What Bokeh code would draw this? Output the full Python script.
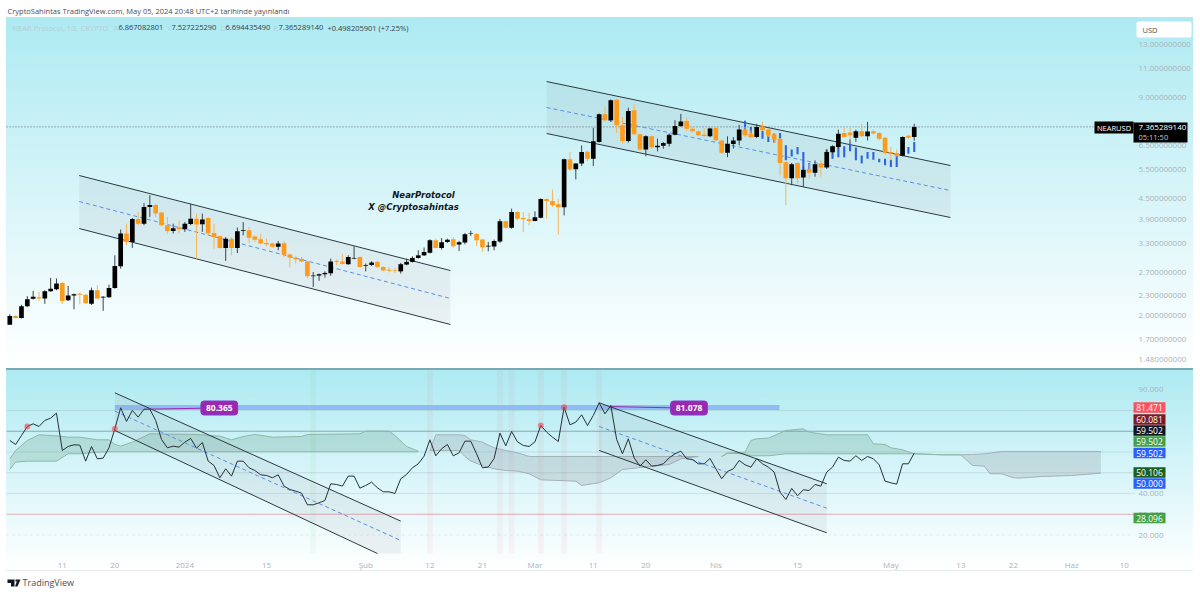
from bokeh.plotting import figure
from bokeh.layouts import column
from bokeh.models import (Range1d, FixedTicker, PrintfTickFormatter, Label, BoxAnnotation,
                          PolyAnnotation, ColumnDataSource)
from bokeh.embed import file_html
from bokeh.resources import INLINE

# ---------- price candles (daily, idx 0 = 2 Dec 2023) ----------
candle_open = [1.881,2.000,1.972,2.136,2.250,2.276,2.255,2.371,2.403,2.511,2.229,2.303,2.329,2.313,2.174,2.387,2.271,2.276,2.424,2.817,
 3.528,3.332,3.900,3.779,4.240,4.295,4.080,3.737,3.595,3.679,3.637,3.771,3.910,3.762,3.929,3.545,3.469,3.197,3.407,3.197,
 3.595,3.612,3.461,3.392,3.309,3.294,3.220,3.302,3.057,2.990,2.963,2.910,2.630,2.642,2.666,2.684,2.923,2.910,2.857,2.970,
 3.003,2.823,2.843,2.903,2.803,2.750,2.743,2.719,2.850,2.903,2.983,3.037,3.092,3.369,3.197,3.332,3.392,3.272,3.316,3.527,
 3.519,3.386,3.230,3.230,3.339,3.842,3.675,4.093,3.930,3.895,3.851,3.938,4.478,4.419,4.320,4.231,5.889,5.498,5.721,6.209,
 5.917,6.638,8.040,7.708,8.883,7.446,6.684,8.254,6.997,6.307,6.903,6.404,6.466,6.560,6.981,7.411,7.673,7.271,7.153,6.981,
 6.903,7.306,6.705,6.167,6.545,6.705,7.228,7.015,6.868,7.391,7.228,6.983,6.787,5.769,5.172,5.743,5.198,5.510,5.367,5.718,
 5.562,6.181,6.414,7.065,7.080,6.835,7.146,6.900,7.146,7.065,6.835,6.196,6.152,6.035,6.933,6.867082801]
candle_high = [2.024,2.010,2.160,2.292,2.376,2.361,2.387,2.600,2.589,2.530,2.458,2.334,2.355,2.324,2.429,2.470,2.292,2.482,3.037,3.628,
 3.779,3.929,4.098,4.354,4.597,4.333,4.098,3.957,3.779,3.863,3.821,4.333,4.050,4.050,3.957,3.779,3.486,3.444,3.444,3.679,
 3.821,3.695,3.486,3.528,3.407,3.309,3.354,3.354,3.070,3.017,3.003,2.923,2.707,2.678,2.719,2.970,2.950,3.070,3.037,3.235,
 3.017,2.870,2.917,2.923,2.816,2.803,2.790,2.883,2.970,3.017,3.145,3.205,3.392,3.407,3.422,3.407,3.444,3.354,3.542,3.597,
 3.542,3.402,3.331,3.386,3.904,3.860,4.192,4.123,4.093,4.074,4.113,4.498,4.498,4.780,4.488,5.917,6.195,5.734,6.482,6.237,
 7.324,8.080,8.490,8.900,8.942,7.883,8.410,8.610,7.028,6.950,6.950,6.794,6.638,7.028,7.708,8.058,7.848,7.359,7.184,7.306,
 7.324,7.359,6.740,6.900,6.868,7.470,7.360,7.195,7.521,7.625,7.277,7.065,6.820,5.795,5.743,5.769,5.600,5.718,5.847,5.847,
 6.297,6.487,7.228,7.325,7.325,7.228,7.521,7.625,7.228,7.114,6.868,6.414,6.297,6.900,6.983,7.527225290]
candle_low = [1.881,1.963,1.963,2.127,2.239,2.218,2.174,2.361,2.387,2.174,2.218,2.094,2.165,2.174,2.155,2.239,2.071,2.266,2.413,2.770,
 3.257,3.197,3.737,3.737,3.957,3.957,3.712,3.528,3.528,3.528,3.570,3.737,2.970,3.570,3.486,3.182,3.182,2.923,3.037,3.085,
 3.486,3.309,3.332,3.279,3.235,3.205,3.145,3.003,2.790,2.870,2.897,2.589,2.440,2.547,2.606,2.636,2.837,2.850,2.843,2.957,
 2.790,2.719,2.823,2.790,2.725,2.701,2.690,2.678,2.837,2.890,2.970,3.023,3.077,3.182,3.160,3.309,3.205,3.130,3.277,3.472,
 3.237,3.109,3.123,3.144,3.308,3.658,3.649,3.868,3.566,3.736,3.842,3.921,3.912,4.241,3.503,4.000,5.436,5.126,5.622,5.820,
 5.622,6.607,7.621,7.621,7.075,6.560,6.607,6.950,6.237,6.015,6.334,6.223,6.334,6.435,6.950,7.359,7.184,7.106,6.903,6.857,
 6.857,6.669,6.123,5.977,6.341,6.487,6.868,6.820,6.820,7.163,6.868,6.590,5.263,4.290,4.925,4.980,4.865,5.155,5.224,5.224,
 5.510,6.123,6.341,6.835,6.559,6.632,6.868,6.705,6.983,6.705,6.050,5.847,6.006,6.006,6.787,6.694435490]
candle_close = [2.000,1.972,2.136,2.244,2.281,2.255,2.371,2.413,2.499,2.218,2.303,2.324,2.313,2.181,2.387,2.255,2.281,2.424,2.823,3.528,
 3.332,3.900,3.779,4.240,4.295,4.050,3.737,3.595,3.662,3.637,3.779,3.910,3.754,3.891,3.528,3.444,3.197,3.407,3.197,3.587,
 3.612,3.429,3.384,3.294,3.279,3.220,3.294,3.050,2.990,2.957,2.910,2.630,2.642,2.666,2.690,2.910,2.903,2.863,3.003,2.983,
 2.803,2.837,2.890,2.803,2.737,2.731,2.731,2.857,2.903,2.983,3.037,3.107,3.369,3.197,3.324,3.384,3.235,3.324,3.511,3.535,
 3.370,3.214,3.245,3.355,3.842,3.675,4.093,3.912,3.895,3.851,3.947,4.478,4.419,4.300,4.231,5.889,5.486,5.721,6.195,5.917,
 6.669,8.040,7.708,8.844,7.446,6.684,8.215,6.997,6.307,6.903,6.404,6.466,6.591,6.981,7.411,7.638,7.271,7.153,6.950,6.919,
 7.289,6.716,6.167,6.559,6.705,7.228,6.950,6.852,7.358,7.195,6.950,6.738,5.743,5.172,5.692,5.172,5.484,5.367,5.692,5.562,
 6.196,6.443,7.030,6.868,6.950,7.146,6.900,7.130,7.032,6.790,6.167,6.123,6.050,6.868,6.835,7.365289140]

# blue overlay bars on the price pane
blue_idx = [126,127,129,130,131,132,133,134,135,136,137,140,141,142,143,144,145,146,147,148,149,150,151,152,154,155]
blue_top = [7.690,7.358,7.163,6.950,7.032,7.065,6.487,6.297,6.414,6.196,5.743,6.297,6.196,6.414,6.443,6.749,6.385,6.050,6.196,6.196,5.912,5.912,5.873,6.050,6.414,6.632]
blue_bot = [7.195,7.032,6.787,6.632,6.603,6.787,5.847,6.006,6.094,5.503,5.445,6.123,5.912,5.977,5.977,6.225,5.847,5.718,5.912,5.873,5.769,5.653,5.588,5.588,6.123,6.196]

# descending channels on the price pane: [start, end] for x, upper, middle, lower
chan1_x, chan1_up, chan1_mid, chan1_lo = [11.9,75.5], [5.267,2.735], [4.403,2.256], [3.654,1.885]
chan2_x, chan2_up, chan2_mid, chan2_lo = [92.0,161.2], [10.07,5.643], [8.419,4.750], [7.037,3.943]

# ---------- RSI ----------
rsi = [65.55,63.63,67.96,72.30,73.58,72.30,75.19,76.31,78.72,60.74,62.66,63.47,63.31,55.60,62.66,56.72,57.04,62.02,71.18,81.29,
 74.71,80.01,76.80,80.65,80.65,75.19,66.04,62.02,62.82,62.34,64.75,66.52,61.86,64.59,55.60,53.51,47.57,51.90,48.37,55.60,
 55.60,52.39,51.10,49.01,48.69,47.57,49.01,43.55,41.95,41.14,40.18,34.56,34.56,35.52,36.65,44.68,44.36,43.55,48.37,48.37,
 42.59,43.87,45.48,42.75,40.82,40.82,40.02,47.09,49.17,52.39,54.31,58.01,65.87,58.17,61.54,63.63,58.17,59.61,65.23,65.23,
 59.13,52.39,52.71,56.88,69.09,62.98,69.89,64.91,63.15,62.66,64.91,72.78,69.57,67.16,65.07,81.61,73.10,74.39,77.92,72.78,
 77.60,83.70,78.40,82.42,66.04,59.13,66.36,57.20,53.19,56.24,53.19,53.51,54.31,57.20,59.13,60.42,56.72,56.40,54.31,54.31,
 56.88,51.90,47.09,50.62,51.90,55.92,53.83,52.71,56.72,54.31,52.71,50.30,40.66,37.13,42.43,38.90,41.79,41.46,44.36,43.55,
 50.30,52.71,57.52,55.92,55.60,58.17,55.92,57.85,56.72,53.83,45.96,45.16,44.52,54.31,54.31,59.50]
signal_idx = [3,18,91,95]
signal_val = [72.30,71.18,72.78,81.61]
pink_idx = [72,84,86,91,95,101]
green_idx = [52]

# cloud pieces (x, upper edge, lower edge)
cloud1_x = [0,1,3,5,8,10,12,15,17,18,19,21,24,32,36,38,40,42,45,50,51,60,61,65,66,68,70]
cloud1_hi = [56.72,60.74,65.55,68.28,67.80,67.16,67.16,65.87,65.87,63.63,62.82,64.75,68.77,68.45,67.64,65.87,67.48,68.45,67.16,67.48,68.45,68.77,70.05,70.05,67.96,62.66,60.42]
cloud1_lo = [51.58,55.12,55.60,55.60,55.60,59.13,59.13,59.93,60.10,60.10,60.10,60.10,60.10,60.10,60.10,60.10,60.10,60.10,60.10,60.10,60.10,60.10,60.10,60.10,60.10,60.10,60.10]
cloud2_x = [72,73,77,78,79,81,83,85,87,89,91,97,98,101,103,105,113,115,118]
cloud2_hi = [60.74,68.28,68.28,67.96,65.87,64.75,62.02,60.74,59.61,57.85,57.85,57.85,57.85,57.85,57.85,57.85,57.85,57.85,57.85]
cloud2_lo = [60.74,60.74,60.74,57.85,55.60,53.51,51.90,51.10,50.78,49.50,46.60,45.96,43.87,45.16,47.57,51.58,53.99,56.72,57.85]
cloud3_x = [122,123,126,127,128,130,133,136,137,140,147,148,150,151,153,155,160,163]
cloud3_hi = [57.85,59.45,59.93,65.55,66.36,66.68,70.37,71.18,69.57,68.28,68.28,63.95,63.63,62.02,61.06,59.13,58.65,58.65]
cloud3_lo = [57.85,59.45,59.13,58.17,58.17,58.17,59.13,59.13,59.13,59.13,59.13,59.13,59.13,59.13,59.13,59.13,58.65,58.65]
cloud4_x = [163,165,167,168,170,172,173,177,182,187]
cloud4_hi = [58.65,58.81,59.13,59.45,60.26,60.26,60.26,60.26,60.26,60.26]
cloud4_lo = [58.65,53.51,53.19,49.50,49.50,47.57,47.41,48.21,48.69,49.82]

# RSI channels; the first runs into the bottom of the pane
rchan1_x, rchan1_up, rchan1_mid = [18,67], [88.52,26.69], [79.69,17.37]
rchan1_lo_x, rchan1_lo = [18,63], [70.37,11.08]
rchan1_fill_x, rchan1_fill_hi, rchan1_fill_lo = [18,63,67], [88.52,31.74,26.69], [70.37,11.08,11.08]
rchan2_x, rchan2_up, rchan2_mid, rchan2_lo = [101,140], [83.70,44.68], [72.30,32.95], [60.74,21.07]
level_band_x, level_band_y = [18,131.9], [81.45,81.45]
peak1_x, peak1_y, peak1_text = [24,35], [80.65,81.2], "80.365"
peak2_x, peak2_y, peak2_text = [102.8,115], [81.9,81.2], "81.078"

# axes
price_ticks = [13,11,9,6.5,5.5,4.5,3.9,3.3,2.7,2.3,2.0,1.7,1.48]
rsi_ticks = [90,80,70,60,50,40,30,20]
date_ticks = {9:"11",18:"20",30:"2024",44:"15",61:"Şub",72:"12",81:"21",90:"Mar",100:"11",109:"20",
              121:"Nis",135:"15",151:"May",163:"13",172:"22",182:"Haz",191:"10"}
rsi_tags = ["81.471","60.081","59.502","59.502","59.502","50.106","50.000","28.096"]
rsi_tag_colors = ["#f9535f","#801922","#131722","#43a047","#2962ff","#1b5e20","#2962ff","#43a047"]

FONT = "Open Sans"
GREY = "#aab4ba"
P1_TOP, P2_TOP = 0, 369
SIDES = "linear-gradient(to right,#fff 6px,transparent 6px,transparent 1193px,#fff 1193px)"
PANE_LEFT, PANE_RIGHT = -0.566, 192.75   # time-scale ends of the drawing area

x_range = Range1d(-1.594, 204.06)

def base(height, y_range, **kw):
    p = figure(width=1200, height=height, frame_width=1200, frame_height=height, x_range=x_range, y_range=y_range,
               output_backend="svg", toolbar_location=None, tools="", y_axis_location="right",
               min_border=0, **kw)
    p.border_fill_alpha = 0
    p.background_fill_alpha = 0
    p.outline_line_color = None
    p.xgrid.visible = False
    p.ygrid.visible = False
    ax = p.yaxis[0]
    ax.fixed_location = PANE_RIGHT
    ax.axis_line_color = None
    ax.major_tick_line_color = None
    ax.minor_tick_line_color = None
    ax.major_tick_out = 0
    ax.major_tick_in = 0
    ax.major_label_standoff = 4
    ax.major_label_text_color = GREY
    ax.major_label_text_font = FONT
    ax.major_label_text_font_size = "8px"
    return p

def txt(p, ftop, x, y, s, color, size="8px", align="left", style="normal", font=FONT):
    p.add_layout(Label(x=x, y=y-ftop, x_units="canvas", y_units="canvas", text=s, text_color=color,
                       text_font=font, text_font_size=size, text_align=align, text_baseline="middle",
                       text_font_style=style, level="overlay"))

def box(p, ftop, x0, y0, x1, y1, color, radius=0):
    p.add_layout(BoxAnnotation(left=x0, right=x1, top=y0-ftop, bottom=y1-ftop,
                               left_units="canvas", right_units="canvas", top_units="canvas", bottom_units="canvas",
                               fill_color=color, fill_alpha=1, line_color=None, border_radius=radius, level="overlay"))

def channel(p, x, up, mid, lo, fill=True):
    if fill:
        p.varea(x=x, y1=up, y2=lo, fill_color="#787b86", fill_alpha=0.09)
        p.line(x, lo, line_color="#2c3a40", line_width=1)
    p.line(x, up, line_color="#2c3a40", line_width=1)
    p.line(x, mid, line_color="#5b8fe8", line_width=1, line_dash="4 3")

# ---------- top pane ----------
p1 = base(369, Range1d(1.382, 17.61), y_axis_type="log")
p1.styles = {"background": SIDES + ",linear-gradient(to bottom,#fff 0,#fff 17px,#aeeaf2 17px,#ffffff 368px,#7aa9b2 368px,#7aa9b2 369px)"}
p1.xaxis.visible = False
p1.yaxis[0].ticker = FixedTicker(ticks=price_ticks)
p1.yaxis[0].formatter = PrintfTickFormatter(format="%.9f")

p1.line([PANE_LEFT, PANE_RIGHT], [candle_close[-1], candle_close[-1]], line_color="#5a6a70", line_width=1, line_dash="1 2")
channel(p1, chan1_x, chan1_up, chan1_mid, chan1_lo)
channel(p1, chan2_x, chan2_up, chan2_mid, chan2_lo)

p1.vbar(x=blue_idx, top=blue_top, bottom=blue_bot, width=0.36, fill_color="#2f66dd", line_color=None)

idx = list(range(len(candle_close)))
up = [c >= o for o, c in zip(candle_open, candle_close)]
src = ColumnDataSource(dict(
    x=idx, h=candle_high, l=candle_low,
    top=[max(o, c) for o, c in zip(candle_open, candle_close)],
    bot=[min(o, c) for o, c in zip(candle_open, candle_close)],
    body=["#000000" if u else "#ff9a1a" for u in up],
    wick=["#3c4549" if u else "#f4b45e" for u in up]))
p1.segment(x0="x", x1="x", y0="l", y1="h", line_color="wick", line_width=1, source=src)
p1.vbar(x="x", top="top", bottom="bot", width=0.8, fill_color="body", line_color=None, source=src)

# header texts
txt(p1, P1_TOP, 7, 10, "CryptoSahintas TradingView.com, May 05, 2024 20:48 UTC+2 tarihinde yayınlandı", "#4a5054", "7.5px")
txt(p1, P1_TOP, 12, 27, "NEAR Protocol, 1G, CRYPTO", "#b6ced5", "7.5px")
for xp, s in [(113,"A"),(167,"Y"),(220,"D"),(273,"K")]:
    txt(p1, P1_TOP, xp, 27, s, "#b6ced5", "7.5px")
for xp, s in [(118,"6.867082801"),(171,"7.527225290"),(225,"6.694435490"),(278,"7.365289140"),(327,"+0.498205901 (+7.25%)")]:
    txt(p1, P1_TOP, xp, 27, s, "#33424a", "7.5px")
txt(p1, P1_TOP, 423, 194, "NearProtocol", "#131722", "8.5px", "center", "bold italic", "DejaVu Sans")
txt(p1, P1_TOP, 413, 206, "X @Cryptosahintas", "#131722", "8.5px", "center", "bold italic", "DejaVu Sans")
# scale chrome
box(p1, P1_TOP, 1136, 21, 1191, 37, "#ffffff", 2)
txt(p1, P1_TOP, 1142, 29, "USD", "#4a5054", "7.5px")
box(p1, P1_TOP, 1094, 121, 1133, 133, "#000000")
txt(p1, P1_TOP, 1113.5, 127, "NEARUSD", "#ffffff", "7.5px", "center")
box(p1, P1_TOP, 1133, 122, 1187, 142, "#000000")
txt(p1, P1_TOP, 1138, 127, "7.365289140", "#ffffff", "8px")
txt(p1, P1_TOP, 1138, 136.5, "05:11:50", "#c8c8c8", "7.5px")

# ---------- bottom pane ----------
p2 = base(224, Range1d(-8.19, 99.76))
p2.styles = {"background": SIDES + ",linear-gradient(to bottom,#7aa9b2 0,#7aa9b2 1px,#aeeaf2 1px,#ffffff 201px,#e6eaea 201px,#e6eaea 202px,#fff 202px)"}
p2.yaxis[0].ticker = FixedTicker(ticks=rsi_ticks)
p2.yaxis[0].formatter = PrintfTickFormatter(format="%.3f")
xa = p2.xaxis[0]
xa.fixed_location = 11.08
xa.ticker = FixedTicker(ticks=list(date_ticks))
xa.major_label_overrides = dict(date_ticks)
xa.axis_line_color = None
xa.major_tick_line_color = None
xa.minor_tick_line_color = None
xa.major_tick_out = 0
xa.major_tick_in = 0
xa.major_label_standoff = 5
xa.major_label_text_color = GREY
xa.major_label_text_font = FONT
xa.major_label_text_font_size = "8px"

for lv, col, al, d in [(80,"#7d8f95",0.2,"solid"),(70,"#55757d",0.55,"solid"),(60,"#7d8f95",0.2,"solid"),
                       (50,"#7d8f95",0.25,"solid"),(40,"#7d8f95",0.2,"solid"),(30,"#e2828a",0.65,"solid"),(20,"#7d8f95",0.2,"dotted")]:
    p2.line([PANE_LEFT, PANE_RIGHT], [lv, lv], line_color=col, line_alpha=al, line_width=1, line_dash=d)

p2.vbar(x=pink_idx, top=99.28, bottom=11.08, width=1, fill_color="#f23645", fill_alpha=0.05, line_color=None)
p2.vbar(x=green_idx, top=99.28, bottom=11.08, width=1, fill_color="#4caf50", fill_alpha=0.05, line_color=None)

for xs, hi, lo, col, edge in [(cloud1_x, cloud1_hi, cloud1_lo, "#5b9a7e", "#8fb7a6"), (cloud2_x, cloud2_hi, cloud2_lo, "#8c8f96", "#a5b0b5"),
                              (cloud3_x, cloud3_hi, cloud3_lo, "#5b9a7e", "#8fb7a6"), (cloud4_x, cloud4_hi, cloud4_lo, "#8c8f96", "#a5b0b5")]:
    p2.varea(x=xs, y1=hi, y2=lo, fill_color=col, fill_alpha=0.24)
    p2.line(xs, hi, line_color=edge, line_width=1)
    p2.line(xs, lo, line_color=edge, line_width=1)

p2.line(level_band_x, level_band_y, line_color="#8fbcf3", line_width=5, line_cap="butt")
p2.varea(x=rchan1_fill_x, y1=rchan1_fill_hi, y2=rchan1_fill_lo, fill_color="#787b86", fill_alpha=0.09)
channel(p2, rchan1_x, rchan1_up, rchan1_mid, None, fill=False)
p2.line(rchan1_lo_x, rchan1_lo, line_color="#2c3a40", line_width=1)
channel(p2, rchan2_x, rchan2_up, rchan2_mid, rchan2_lo)
p2.line(peak1_x, peak1_y, line_color="#9c27b0", line_width=1)
p2.line(peak2_x, peak2_y, line_color="#9c27b0", line_width=1)
p2.line(idx, rsi, line_color="#263238", line_width=1)
p2.scatter(signal_idx, signal_val, size=6, fill_color="#f23645", fill_alpha=0.55, line_color=None)

for lx, ly, s in [(35.9, 81.2, peak1_text), (116.4, 81.2, peak2_text)]:
    p2.add_layout(Label(x=lx, y=ly, text=s, text_color="#ffffff", text_font=FONT, text_font_size="8.5px", text_font_style="bold",
                        text_align="center", text_baseline="middle", background_fill_color="#9c27b0",
                        border_line_color="#7b3fd0", border_line_width=1, border_radius=3, padding=(5, 4)))

centers = [407, 419, 430, 441, 452.5, 472, 483, 517.5]
for s, c, t in zip(rsi_tags, rsi_tag_colors, centers):
    box(p2, P2_TOP, 1133, t-5.3, 1165, t+5.3, c)
    txt(p2, P2_TOP, 1149, t, s, "#ffffff", "8.5px", "center")

# TradingView mark
def poly(xs, ys):
    p2.add_layout(PolyAnnotation(xs=xs, ys=[y-P2_TOP for y in ys], xs_units="canvas", ys_units="canvas",
                                 fill_color="#131722", fill_alpha=1, line_color=None, level="overlay"))
poly([7,14,14,10.5,10.5,7], [579,579,586,586,582.5,582.5])
poly([15,17,17,15], [579,579,581,581])
poly([17,20,17,14.5], [579,579,586,586])
txt(p2, P2_TOP, 22, 582, "TradingView", "#4a5054", "9px")

layout = column(p1, p2, spacing=0)
open("out.html", "w").write(file_html(layout, INLINE))
